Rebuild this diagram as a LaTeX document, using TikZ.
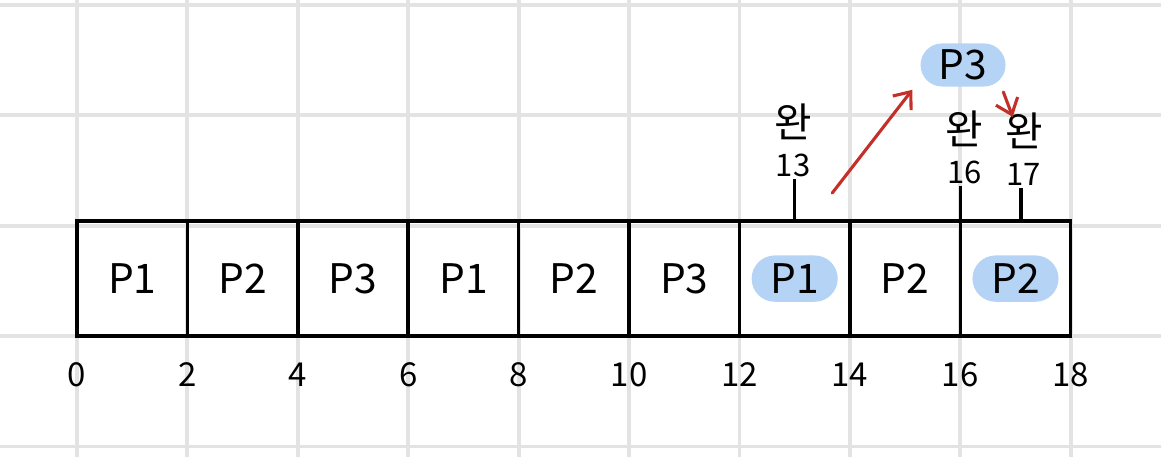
\documentclass[tikz,border=0pt]{standalone}
\usepackage{fontspec}
\newfontfamily\krfont{Noto Sans CJK KR}
\usetikzlibrary{arrows.meta}
\definecolor{gridc}{rgb}{0.89,0.89,0.89}
\definecolor{pillc}{rgb}{0.71,0.83,0.96}
\definecolor{arrc}{rgb}{0.76,0.19,0.16}
\newcommand{\wan}{{\fontsize{21}{21}\selectfont 완}}

\begin{document}
\begin{tikzpicture}[>={Straight Barb[length=2.6mm,width=4.2mm]},
  cell/.style={rectangle, draw, line width=1.8pt, minimum width=2cm, minimum height=2.08cm, inner sep=0pt, outer sep=0pt},
  lbl/.style={font=\krfont\fontsize{21}{21}\selectfont},
  pill/.style={lbl, fill=pillc, rounded corners=0.42cm, minimum width=1.56cm, minimum height=0.84cm, inner sep=0pt},
  tick/.style={font=\krfont\fontsize{17}{17}\selectfont},
  note/.style={font=\krfont\fontsize{16}{20}\selectfont, align=center, inner sep=1pt},
  redarrow/.style={->, color=arrc, line width=1.6pt, line cap=round}]

    \useasboundingbox (-1.395,-2.192) rectangle (19.636,6.087);
    \draw[gridc, line width=2pt, step=2] (-1.395,-2.192) grid (19.636,6.087);

    \foreach \i in {0,...,8}
      \node[cell] (c\i) at (2*\i+1,1.04) {};
    \foreach \i/\p/\s in {0/P1/lbl,1/P2/lbl,2/P3/lbl,3/P1/lbl,4/P2/lbl,5/P3/lbl,6/P1/pill,7/P2/lbl,8/P2/pill}
      \node[\s] (p\i) at (c\i) {\p};
    \foreach \t in {0,2,...,18}
      \node[tick] (x\t) at (\t,-0.7) {\t};

    \coordinate (t13) at (13,2.08);
    \coordinate (t16) at (16,2.08);
    \coordinate (t17) at (17.1,2.08);
    \node[note] (n13) at (12.97,3.55) {\wan\\13};
    \node[note] (n16) at (16.08,3.42) {\wan\\16};
    \node[note] (n17) at (17.15,3.38) {\wan\\17};
    \node[pill, minimum width=1.54cm, minimum height=0.78cm, rounded corners=0.39cm] (q3) at (16.05,4.91) {P3};

    \coordinate (ra) at (13.68,2.59);
    \coordinate (rb) at (15.13,4.46);
    \coordinate (rc) at (16.78,4.42);
    \coordinate (rd) at (16.95,3.97);

    \draw[line width=1.8pt] (t13) -- (t13 |- n13.south);
    \draw[line width=1.8pt] (t16) -- (t16 |- n16.south);
    \draw[line width=1.8pt] (t17) -- (t17 |- n17.south);
    \draw[redarrow] (ra) -- (rb);
    \draw[redarrow] (rc) -- (rd);

  \end{tikzpicture}
\end{document}
